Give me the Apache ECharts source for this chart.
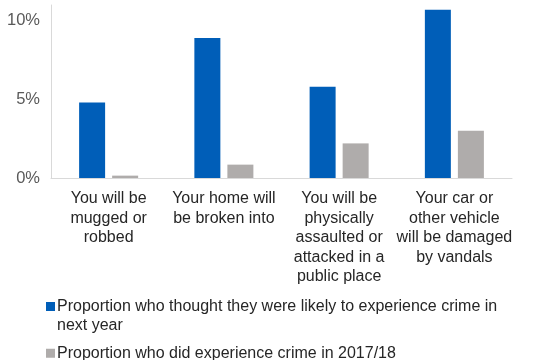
<!DOCTYPE html>
<html>
<head>
<meta charset="utf-8">
<style>
  html, body { margin: 0; padding: 0; background: #ffffff; }
  #chart { width: 545px; height: 360px; }
</style>
<script src="https://cdn.jsdelivr.net/npm/echarts@6/dist/echarts.min.js"></script>
</head>
<body>
<div id="chart"></div>
<script>
// Crime categories (x axis)
const categories = [
  'You will be\nmugged or\nrobbed',
  'Your home will\nbe broken into',
  'You will be\nphysically\nassaulted or\nattacked in a\npublic place',
  'Your car or\nother vehicle\nwill be damaged\nby vandals'
];

// Series names
const seriesNames = [
  'Proportion who thought they were likely to experience crime in next year',
  'Proportion who did experience crime in 2017/18'
];

// Percentages
const thoughtLikely = [4.8, 8.9, 5.8, 10.7];
const didExperience = [0.15, 0.85, 2.2, 3.0];

// Y axis labels shown
const yTickValues = [0, 5, 10];

const chart = echarts.init(document.getElementById('chart'));
const font = "'Liberation Sans', Arial, sans-serif";

const legendText = {
  fontFamily: font,
  fontSize: 16,
  color: '#262626',
  width: 450,
  overflow: 'break',
  lineHeight: 18.5,
  padding: [0, 0, 0, -3]
};

// Swatch sitting at the top of a tall icon box, so it lines up with the
// first line of a wrapped two-line label
const topSwatch = 'path://M0,0H9V9H0Z M0,28H0.01V28.01H0Z';

chart.setOption({
  animation: false,
  textStyle: { fontFamily: font },
  grid: { left: 51, right: 33, top: 5, bottom: 182, containLabel: false },
  legend: [
    {
      orient: 'vertical',
      left: 41,
      top: 292.5,
      itemWidth: 9,
      itemHeight: 28,
      icon: topSwatch,
      textStyle: legendText,
      data: [seriesNames[0]]
    },
    {
      orient: 'vertical',
      left: 41,
      top: 339,
      itemWidth: 9,
      itemHeight: 9,
      icon: 'rect',
      textStyle: legendText,
      data: [seriesNames[1]]
    }
  ],
  xAxis: {
    type: 'category',
    data: categories,
    axisLine: { lineStyle: { color: '#d9d9d9', width: 1 } },
    axisTick: { show: false },
    axisLabel: {
      interval: 0,
      margin: 11,
      fontFamily: font,
      fontSize: 16,
      color: '#262626',
      lineHeight: 19.5
    }
  },
  yAxis: {
    type: 'value',
    min: 0,
    max: 11,
    interval: 5,
    splitLine: { show: false },
    axisTick: { show: false },
    axisLine: { show: true, lineStyle: { color: '#d9d9d9', width: 1 } },
    axisLabel: {
      margin: 11,
      fontFamily: font,
      fontSize: 16.5,
      color: '#595959',
      formatter: function (v) {
        return yTickValues.indexOf(v) >= 0 ? v + '%' : '';
      }
    }
  },
  series: [
    {
      name: seriesNames[0],
      type: 'bar',
      data: thoughtLikely,
      barWidth: 26,
      barGap: '27%',
      itemStyle: { color: '#005EB8' }
    },
    {
      name: seriesNames[1],
      type: 'bar',
      data: didExperience,
      barWidth: 26,
      itemStyle: { color: '#AFACAB' }
    }
  ]
});
</script>
</body>
</html>
